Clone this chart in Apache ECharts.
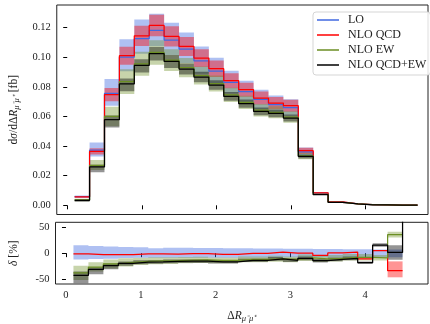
<!DOCTYPE html>
<html>
<head>
<meta charset="utf-8">
<script src="https://cdn.jsdelivr.net/npm/echarts@6/dist/echarts.min.js"></script>
<style>html,body{margin:0;padding:0;background:#fff}#c{width:430px;height:324px}</style>
</head>
<body>
<div id="c"></div>
<script>
// ---- data ----
const binEdges = [0.1,0.3,0.5,0.7,0.9,1.1,1.3,1.5,1.7,1.9,2.1,2.3,2.5,2.7,2.9,3.1,3.3,3.5,3.7,3.9,4.1,4.3,4.5,4.7];
const seriesNames = ['LO','NLO QCD','NLO EW','NLO QCD+EW'];
const yTicksTop = [0,0.02,0.04,0.06,0.08,0.10,0.12];
const yTicksBottom = [-50,0,50];
const xTicks = [0,1,2,3,4];

// differential cross section [fb]
const loXsec    = [0.0058,0.0372,0.0755,0.1000,0.1125,0.1180,0.1115,0.1055,0.0975,0.0905,0.0830,0.0768,0.0715,0.0680,0.0660,0.0360,0.0082,0.0022,0.0010,0.0004,0.0003,0.0002,0.0002];
const qcdXsec   = [0.0057,0.0364,0.0747,0.1010,0.1144,0.1214,0.1140,0.1072,0.0994,0.0922,0.0841,0.0780,0.0724,0.0690,0.0672,0.0369,0.0084,0.0023,0.0010,0.0004,0.0003,0.0002,0.0002];
const ewXsec    = [0.0036,0.0270,0.0600,0.0835,0.0955,0.1032,0.0980,0.0930,0.0876,0.0822,0.0745,0.0695,0.0642,0.0628,0.0596,0.0334,0.0074,0.0020,0.0009,0.0004,0.0003,0.0002,0.0002];
const qcdewXsec = [0.0034,0.0259,0.0578,0.0819,0.0944,0.1023,0.0971,0.0920,0.0866,0.0812,0.0735,0.0686,0.0634,0.0620,0.0589,0.0330,0.0072,0.0020,0.0009,0.0003,0.0003,0.0002,0.0002];

// relative uncertainties [%]
const loRelUp      = [15.5,14,13,12,11.5,9.5,10.5,10.5,10,10,9.5,9.5,9,9,8.5,8.5,8,8,7.5,7.5,7,7,null];
const loRelDown    = [12.5,11.5,11,9.5,9,9,9,9,9,9,9,9,9,9,8.5,8.5,8.5,8.5,8.5,8.5,8,8,null];
const qcdRelUp     = [6,6,6,6,6,6,6,6,6,6,6,6,6,6,6,5.5,5.5,5.5,5.5,5.5,5.5,5.5,5.5];
const qcdRelDown   = [6,6,6,6,6,6,6,6,6,6,6,6,6,6,6,6,6,6,6,6,6,6,6];
const ewRelUp      = [23,13,11,10,8.5,8,7.5,7,7,6.5,6.5,6.5,6.5,6.5,6.5,7,7,7,7,7,6,4,null];
const ewRelDown    = [22,12,11,10,8.5,8,7.5,7,7,6.5,6.5,6.5,6.5,6.5,6.5,7,7,7,7,7,6,4,null];
const qcdewRelUp   = [13,6,5,4.5,4.5,4.5,4.5,4,4,4,4,4,4,4,4,4,4,4,4,3,3,14,null];
const qcdewRelDown = [27,14,9,6,5,4.5,4.5,4,4,4,4,4,4,4,4,4,4,4,4,3,3,14,null];

// relative corrections delta [%]
const qcdDelta   = [-1.5,-3,-3,-3,-1.5,-1.5,-2,-1,-1,-2.5,-2.5,-0.5,-0.5,2,0,0,-4.5,0.5,2,-11,5,-34,null];
const ewDelta    = [-38.5,-27,-21,-18,-16,-15,-14.5,-13.5,-13,-14,-14,-12,-12,-11,-12,-9,-11,-10,-8,-8,-9,36,null];
const qcdewDelta = [-43,-31.7,-24.3,-19.7,-17.4,-17,-16,-15.7,-15.7,-17,-17,-14,-14,-11,-14,-10,-14.6,-12,-10,-18.6,15.7,1.4,90];
const qcdDeltaBandLo = [null,null,null,null,null,null,null,null,null,null,null,null,null,null,null,null,null,null,null,null,null,-47,null];
const qcdDeltaBandHi = [null,null,null,null,null,null,null,null,null,null,null,null,null,null,null,null,null,null,null,null,null,-16,null];

// ---- helpers ----
const FONT = 'Liberation Serif';
function stepData(vals){
  const d=[];
  vals.forEach((v,i)=>{
    if(v==null){ d.push([binEdges[i],null]); return; }
    d.push([binEdges[i],v],[binEdges[i+1],v]);
  });
  return d;
}
function relBand(vals, up, down){
  return {
    hi: vals.map((v,i)=> (v==null||up[i]==null)?null: v*(1+up[i]/100)),
    lo: vals.map((v,i)=> (v==null||down[i]==null)?null: v*(1-down[i]/100))
  };
}
function deltaBand(delta, up, down){
  return {
    hi: delta.map((d,i)=> (d==null||up[i]==null)?null: ((1+d/100)*(1+up[i]/100)-1)*100),
    lo: delta.map((d,i)=> (d==null||down[i]==null)?null: ((1+d/100)*(1-down[i]/100)-1)*100)
  };
}
function bandSeries(xi, yi, band, color, z){
  return {
    type:'custom', xAxisIndex:xi, yAxisIndex:yi, silent:true, z:z,
    data:[[binEdges[0],0]],
    renderItem:function(params, api){
      const cs = params.coordSys;
      const rect = {x:cs.x, y:cs.y, width:cs.width, height:cs.height};
      const children=[];
      let run=[];
      const flush=()=>{
        if(!run.length) return;
        const up=[], lw=[];
        run.forEach(i=>{
          up.push(api.coord([binEdges[i],band.hi[i]]), api.coord([binEdges[i+1],band.hi[i]]));
          lw.push(api.coord([binEdges[i],band.lo[i]]), api.coord([binEdges[i+1],band.lo[i]]));
        });
        const pts = up.concat(lw.reverse());
        children.push({type:'polygon', shape:{points: echarts.graphic.clipPointsByRect(pts, rect)}, style:{fill:color, stroke:null}});
        run=[];
      };
      for(let i=0;i<band.hi.length;i++){
        if(band.hi[i]==null||band.lo[i]==null){ flush(); } else run.push(i);
      }
      flush();
      return {type:'group', children};
    }
  };
}
function lineSeries(name, xi, yi, vals, color, z){
  return {name, type:'line', xAxisIndex:xi, yAxisIndex:yi, data:stepData(vals), symbol:'none',
    showSymbol:false, connectNulls:false, clip:true, z:z,
    lineStyle:{color, width:1.25}, itemStyle:{color}};
}

const C_LO='#4169e1', C_QCD='#ff0000', C_EW='#6b8e23', C_QE='#000000';
const B_LO='rgba(65,105,225,0.42)', B_QCD='rgba(255,0,0,0.42)', B_EW='rgba(107,142,35,0.38)', B_QE='rgba(0,0,0,0.42)';

const chart = echarts.init(document.getElementById('c'), null, {renderer:'canvas'});
const axisFont = {fontFamily:FONT, fontSize:10.5, color:'#222'};
const nameRich = {
  a:{fontFamily:FONT, fontSize:11.5, color:'#222', lineHeight:15},
  i:{fontFamily:FONT, fontSize:11.5, fontStyle:'italic', color:'#222', lineHeight:15},
  s:{fontFamily:FONT, fontSize:8.5, fontStyle:'italic', color:'#222', lineHeight:9, verticalAlign:'bottom'}
};
const xBase = (gi, showLabels)=>({
  type:'value', gridIndex:gi, min:-0.14, max:4.84,
  axisLine:{show:false}, splitLine:{show:false},
  axisTick:{show:true, inside:false, length:4, lineStyle:{color:'#000', width:1}, customValues:xTicks},
  axisLabel:{show:showLabels, margin:6, customValues:xTicks, formatter:v=>String(Math.round(v)), ...axisFont}
});

const topLO = relBand(loXsec, loRelUp, loRelDown);
const topQCD = relBand(qcdXsec, qcdRelUp, qcdRelDown);
const topEW = relBand(ewXsec, ewRelUp, ewRelDown);
const topQE = relBand(qcdewXsec, qcdewRelUp, qcdewRelDown);
const zeros = loXsec.map(()=>0);
const botLO = deltaBand(zeros, loRelUp, loRelDown);
const botEW = deltaBand(ewDelta, ewRelUp, ewRelDown);
const botQE = deltaBand(qcdewDelta, qcdewRelUp, qcdewRelDown);
const botQCD = {lo:qcdDeltaBandLo, hi:qcdDeltaBandHi};

chart.setOption({
  animation:false,
  backgroundColor:'#fff',
  grid:[
    {left:49, top:5, width:379, height:209.5, show:true, borderColor:'#222', borderWidth:1, backgroundColor:'transparent'},
    {left:49, top:222.3, width:379, height:70, show:true, borderColor:'#222', borderWidth:1, backgroundColor:'transparent'}
  ],
  xAxis:[
    xBase(0,false),
    Object.assign(xBase(1,true), {name:'{a|Δ}{i|R}{s|μ⁻μ⁺}', nameLocation:'middle', nameGap:24, nameTextStyle:{rich:nameRich}})
  ],
  yAxis:[
    {type:'value', gridIndex:0, min:-0.0062, max:0.1352,
     axisLine:{show:false}, splitLine:{show:false},
     axisTick:{show:true, inside:false, length:4, lineStyle:{color:'#000'}, customValues:yTicksTop},
     axisLabel:{margin:6, customValues:yTicksTop, formatter:v=>v.toFixed(2), ...axisFont},
     name:'{a|d}{i|σ}{a|/d}{a|Δ}{i|R}{s|μ⁻μ⁺}{a| [fb]}', nameLocation:'middle', nameGap:34, nameRotate:90,
     nameTextStyle:{rich:nameRich}},
    {type:'value', gridIndex:1, min:-60, max:60,
     axisLine:{show:false}, splitLine:{show:false},
     axisTick:{show:true, inside:false, length:4, lineStyle:{color:'#000'}, customValues:yTicksBottom},
     axisLabel:{margin:6, customValues:yTicksBottom, formatter:v=>String(v), ...axisFont},
     name:'{i|δ}{a| [%]}', nameLocation:'middle', nameGap:34, nameRotate:90,
     nameTextStyle:{rich:nameRich}}
  ],
  legend:{
    data:seriesNames, orient:'vertical', left:313, top:12,
    icon:'rect', itemWidth:22, itemHeight:1.5, itemGap:1,
    padding:[1,4,3,4], borderColor:'#d5d5d5', borderWidth:1, borderRadius:3,
    backgroundColor:'rgba(255,255,255,0.85)',
    textStyle:{fontFamily:FONT, fontSize:12, color:'#222', lineHeight:14, padding:[0,0,0,4]}
  },
  series:[
    bandSeries(0,0,topLO,B_LO,1),
    bandSeries(0,0,topQCD,B_QCD,2),
    bandSeries(0,0,topEW,B_EW,3),
    bandSeries(0,0,topQE,B_QE,4),
    lineSeries('LO',0,0,loXsec,C_LO,10),
    lineSeries('NLO QCD',0,0,qcdXsec,C_QCD,11),
    lineSeries('NLO EW',0,0,ewXsec,C_EW,12),
    lineSeries('NLO QCD+EW',0,0,qcdewXsec,C_QE,13),
    bandSeries(1,1,botLO,B_LO,1),
    bandSeries(1,1,botQCD,B_QCD,2),
    bandSeries(1,1,botEW,B_EW,3),
    bandSeries(1,1,botQE,B_QE,4),
    lineSeries('NLO QCD',1,1,qcdDelta,C_QCD,11),
    lineSeries('NLO EW',1,1,ewDelta,C_EW,12),
    lineSeries('NLO QCD+EW',1,1,qcdewDelta,C_QE,13)
  ]
});
</script>
</body>
</html>
